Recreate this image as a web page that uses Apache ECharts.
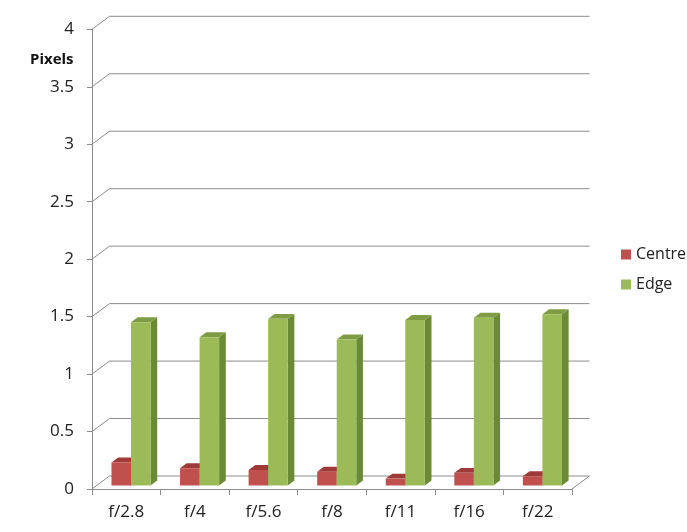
<!DOCTYPE html>
<html>
<head>
<meta charset="utf-8">
<script src="https://cdn.jsdelivr.net/npm/echarts@6/dist/echarts.min.js"></script>
<style>
html,body{margin:0;padding:0;background:#fff;}
#chart{width:687px;height:532px;}
</style>
</head>
<body>
<div id="chart"></div>
<script>
const categories = ['f/2.8', 'f/4', 'f/5.6', 'f/8', 'f/11', 'f/16', 'f/22'];
const centreValues = [0.20, 0.15, 0.135, 0.12, 0.06, 0.11, 0.08];
const edgeValues = [1.42, 1.29, 1.45, 1.27, 1.44, 1.46, 1.49];
const yTicks = [0, 0.5, 1, 1.5, 2, 2.5, 3, 3.5, 4];

const DX = 17.5, DY = 13;          // depth offset of back wall
const D0 = 0.27, DD = 0.38;        // bar front depth, bar depth thickness
const BARW = 0.285;                // bar width as fraction of band
const FONT = '"Open Sans", "Liberation Sans", sans-serif';

const chart = echarts.init(document.getElementById('chart'), null, {renderer: 'canvas'});

function wallRender(params, api) {
  const cs = params.coordSys;
  const x0 = cs.x, x1 = cs.x + cs.width;
  const v = api.value(0);
  const y = api.coord([0, v])[1];
  const style = {stroke: '#8c8c8c', lineWidth: 1, fill: null};
  const children = [
    {type: 'polyline', shape: {points: [[x0, y], [x0 + DX, y - DY], [x1 + DX, y - DY]]}, style: style, silent: true}
  ];
  if (v === 0) {
    children.push({type: 'line', shape: {x1: x1, y1: y, x2: x1 + DX, y2: y - DY}, style: style, silent: true});
  }
  return {type: 'group', children: children};
}

function makeBarRender(seriesIdx, cFront, cTop, cSide) {
  return function (params, api) {
    const i = api.value(0), val = api.value(1);
    const base = api.coord([i, 0]);
    const top = api.coord([i, val]);
    const band = api.size([1, 0])[0];
    const w = band * BARW;
    const sx = DX * D0, sy = DY * D0;
    const xl = base[0] - w + seriesIdx * w + sx;
    const xr = xl + w;
    const yb = base[1] - sy;
    const yt = top[1] - sy;
    const ddx = DX * DD, ddy = DY * DD;
    return {
      type: 'group',
      children: [
        {type: 'polygon', shape: {points: [[xr, yb], [xr, yt], [xr + ddx, yt - ddy], [xr + ddx, yb - ddy]]}, style: {fill: cSide}},
        {type: 'polygon', shape: {points: [[xl, yt], [xr, yt], [xr + ddx, yt - ddy], [xl + ddx, yt - ddy]]}, style: {fill: cTop}},
        {type: 'rect', shape: {x: xl, y: yt, width: w, height: yb - yt}, style: {fill: cFront}}
      ]
    };
  };
}

const option = {
  animation: false,
  backgroundColor: '#ffffff',
  title: {
    text: 'Pixels', left: 25, top: 47,
    textStyle: {fontFamily: FONT, fontSize: 15, fontWeight: 'bold', color: '#111'}
  },
  legend: {
    orient: 'vertical', left: 616, top: 240, itemWidth: 10, itemHeight: 10, itemGap: 11,
    icon: 'rect',
    data: ['Centre', 'Edge'],
    textStyle: {fontFamily: FONT, fontSize: 16, color: '#222', lineHeight: 19}
  },
  grid: {left: 92, right: 115, top: 29.3, bottom: 43},
  xAxis: {
    type: 'category', data: categories, boundaryGap: true,
    axisLine: {show: true, lineStyle: {color: '#8c8c8c'}},
    axisTick: {show: true, length: 6, lineStyle: {color: '#8c8c8c'}},
    axisLabel: {fontFamily: FONT, fontSize: 17, color: '#222', margin: 15}
  },
  yAxis: {
    type: 'value', min: 0, max: 4, interval: 0.5,
    axisLine: {show: true, lineStyle: {color: '#8c8c8c'}},
    axisTick: {show: true, length: 5, lineStyle: {color: '#8c8c8c'}},
    splitLine: {show: false},
    axisLabel: {fontFamily: FONT, fontSize: 17, color: '#222', margin: 18}
  },
  series: [
    {
      type: 'custom', name: 'wall', silent: true, z: 1,
      renderItem: wallRender,
      data: yTicks.map(v => [v]),
      encode: {y: 0}
    },
    {
      type: 'custom', name: 'Centre', z: 3,
      itemStyle: {color: '#C0504D'},
      renderItem: makeBarRender(0, '#C0504D', '#9E3A37', '#8E3330'),
      data: categories.map((c, i) => [i, centreValues[i]]),
      encode: {x: 0, y: 1}
    },
    {
      type: 'custom', name: 'Edge', z: 4,
      itemStyle: {color: '#9BBB59'},
      renderItem: makeBarRender(1, '#9BBB59', '#7F9C44', '#6A8A36'),
      data: categories.map((c, i) => [i, edgeValues[i]]),
      encode: {x: 0, y: 1}
    }
  ]
};
chart.setOption(option);
</script>
</body>
</html>
